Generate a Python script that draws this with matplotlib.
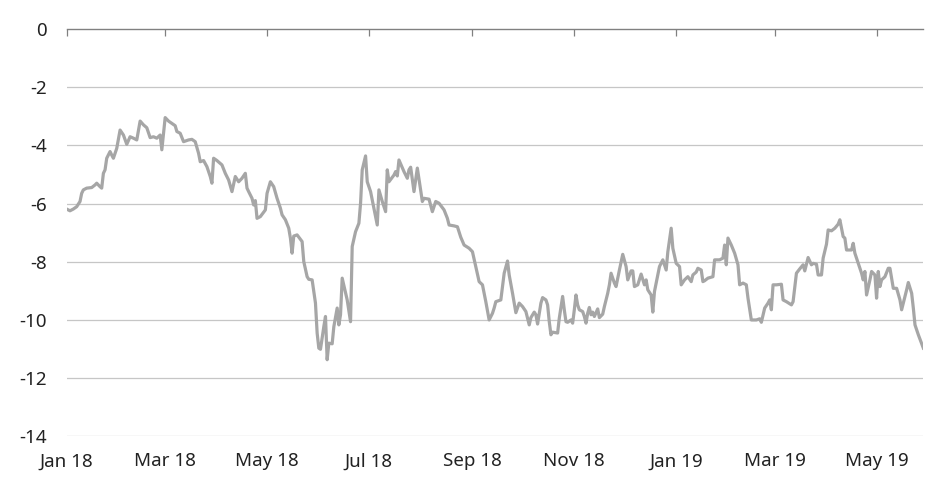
import matplotlib
matplotlib.use("Agg")
import matplotlib.pyplot as plt
import matplotlib.dates as mdates
import pandas as pd

# Series: days since 2018-01-01 and spread values
start_date = "2018-01-01"
days = [0, 2, 4, 6, 8, 9, 10, 12, 15, 17, 18, 20, 21, 22, 23, 24, 26, 27, 28, 30,
        32, 34, 36, 38, 40, 42, 44, 46, 48, 50, 52, 54, 56, 57, 59, 61, 63, 65, 66, 68,
        70, 73, 75, 77, 79, 80, 82, 84, 86, 87, 88, 90, 93, 95, 97, 99, 101, 103, 105, 107,
        108, 109, 111, 112, 113, 114, 116, 119, 120, 122, 124, 126, 128, 129, 131, 133, 134, 135, 136, 138,
        141, 142, 144, 145, 147, 149, 150, 151, 152, 154, 155, 156, 157, 159, 160, 162, 163, 164, 165, 168,
        170, 171, 173, 175, 176, 177, 179, 180, 182, 184, 186, 187, 189, 191, 192, 193, 196, 197, 198, 199,
        202, 204, 205, 206, 208, 210, 213, 214, 217, 219, 221, 223, 226, 228, 229, 232, 234, 236, 238, 241,
        243, 245, 247, 249, 251, 253, 255, 256, 257, 260, 262, 264, 265, 267, 269, 271, 273, 275, 277, 278,
        280, 281, 282, 284, 285, 287, 288, 289, 290, 291, 294, 295, 297, 298, 299, 300, 302, 303, 304, 305,
        306, 307, 309, 310, 311, 312, 313, 314, 315, 316, 318, 319, 321, 322, 324, 325, 326, 328, 329, 331,
        333, 335, 336, 338, 339, 340, 342, 344, 346, 347, 348, 350, 351, 352, 354, 355, 357, 359, 360, 362,
        363, 365, 367, 368, 370, 372, 374, 375, 377, 378, 380, 381, 382, 384, 387, 388, 391, 393, 394, 395,
        396, 398, 400, 402, 403, 405, 407, 408, 410, 413, 415, 416, 418, 420, 421, 422, 423, 425, 428, 429,
        431, 434, 435, 437, 439, 441, 442, 444, 446, 447, 449, 450, 452, 453, 455, 456, 458, 460, 462, 463,
        465, 466, 467, 468, 470, 471, 472, 474, 476, 477, 478, 479, 481, 482, 484, 485, 486, 487, 488, 490,
        492, 493, 494, 495, 497, 499, 500, 501, 503, 504, 506, 507, 508, 510, 513]
values = [-6.19, -6.25, -6.19, -6.11, -5.93, -5.65, -5.53, -5.47, -5.45, -5.36, -5.30, -5.42, -5.47, -4.96, -4.84, -4.44, -4.21, -4.33, -4.44, -4.10,
          -3.47, -3.64, -3.96, -3.70, -3.75, -3.81, -3.16, -3.29, -3.39, -3.73, -3.70, -3.75, -3.64, -4.15, -3.04, -3.16, -3.24, -3.32, -3.52, -3.58,
          -3.87, -3.81, -3.79, -3.87, -4.27, -4.56, -4.52, -4.73, -5.07, -5.30, -4.44, -4.52, -4.67, -4.96, -5.19, -5.59, -5.07, -5.25, -5.13, -4.96,
          -5.47, -5.59, -5.82, -6.05, -5.90, -6.51, -6.45, -6.22, -5.65, -5.25, -5.42, -5.82, -6.16, -6.39, -6.56, -6.85, -7.19, -7.71, -7.12, -7.08,
          -7.31, -8.00, -8.52, -8.61, -8.63, -9.43, -10.46, -10.98, -11.02, -10.24, -9.89, -11.38, -10.81, -10.83, -10.24, -9.60, -10.18, -9.83, -8.57, -9.32,
          -10.07, -7.48, -6.97, -6.68, -5.99, -4.84, -4.36, -5.25, -5.59, -6.16, -6.74, -5.53, -5.93, -6.28, -4.84, -5.25, -5.02, -4.90, -5.05, -4.50,
          -4.90, -5.13, -4.84, -4.75, -5.59, -4.78, -5.93, -5.82, -5.85, -6.28, -5.93, -5.99, -6.22, -6.51, -6.74, -6.77, -6.80, -7.16, -7.43, -7.54,
          -7.66, -8.17, -8.69, -8.80, -9.38, -10.01, -9.78, -9.60, -9.38, -9.32, -8.40, -7.98, -8.46, -9.09, -9.76, -9.43, -9.55, -9.72, -10.18, -9.93,
          -9.74, -9.83, -10.15, -9.43, -9.24, -9.32, -9.49, -10.07, -10.52, -10.43, -10.46, -9.95, -9.20, -9.66, -10.07, -10.09, -10.01, -10.12, -9.66, -9.15,
          -9.49, -9.66, -9.72, -9.89, -10.12, -9.78, -9.58, -9.83, -9.74, -9.89, -9.63, -9.93, -9.81, -9.55, -9.09, -8.80, -8.40, -8.74, -8.86, -8.29,
          -7.75, -8.17, -8.63, -8.32, -8.32, -8.86, -8.80, -8.43, -8.80, -8.63, -8.97, -9.15, -9.74, -9.03, -8.46, -8.17, -7.94, -8.29, -7.66, -6.85,
          -7.54, -8.06, -8.17, -8.80, -8.63, -8.52, -8.69, -8.46, -8.36, -8.23, -8.29, -8.69, -8.66, -8.57, -8.52, -7.94, -7.94, -7.88, -7.43, -8.11,
          -7.19, -7.43, -7.71, -8.11, -8.80, -8.74, -8.80, -9.26, -10.01, -10.01, -9.97, -10.09, -9.60, -9.43, -9.32, -9.66, -8.80, -8.80, -8.78, -9.32,
          -9.38, -9.49, -9.38, -8.40, -8.25, -8.11, -8.32, -7.86, -8.11, -8.06, -8.09, -8.46, -8.46, -7.88, -7.40, -6.91, -6.94, -6.85, -6.71, -6.56,
          -7.14, -7.19, -7.60, -7.60, -7.60, -7.37, -7.71, -8.06, -8.40, -8.63, -8.34, -9.15, -8.63, -8.34, -8.46, -9.26, -8.34, -8.86, -8.63, -8.52,
          -8.23, -8.23, -8.57, -8.92, -8.92, -9.32, -9.66, -9.43, -8.97, -8.72, -9.09, -9.60, -10.18, -10.52, -10.98]

y_ticks = [0, -2, -4, -6, -8, -10, -12, -14]
tick_months = [1, 3, 5, 7, 9, 11]

dates = pd.Timestamp(start_date) + pd.to_timedelta(days, unit="D")

plt.rcParams["font.family"] = ["Noto Sans", "DejaVu Sans"]

fig = plt.figure(figsize=(9.52, 4.91), dpi=100)
ax = fig.add_axes([0.0700, 0.1124, 0.8999, 0.8279])

ax.plot(dates, values, color="#a6a6a6", lw=2.3, solid_joinstyle="round", zorder=3)

ax.set_ylim(-14, 0)
ax.set_xlim(dates[0], dates[-1])
ax.set_yticks(y_ticks)
ax.set_yticklabels([str(t) for t in y_ticks])

ax.xaxis.set_major_locator(mdates.MonthLocator(bymonth=tick_months))
ax.xaxis.set_major_formatter(mdates.DateFormatter("%b %y"))

for t in y_ticks[1:]:
    ax.axhline(t, color="#c6c6c6", lw=0.9, zorder=1)

for s in ["left", "right", "bottom"]:
    ax.spines[s].set_visible(False)
ax.spines["top"].set_color("#808080")
ax.spines["top"].set_linewidth(1.0)

ax.tick_params(axis="x", bottom=False, top=True, labelbottom=True, labeltop=False,
               direction="in", length=5, width=0.9, color="#808080",
               labelsize=13.5, labelcolor="#222222", pad=12)
ax.tick_params(axis="y", left=False, labelsize=13.5, labelcolor="#222222", pad=10.5)

fig.savefig("out.png", dpi=100)
